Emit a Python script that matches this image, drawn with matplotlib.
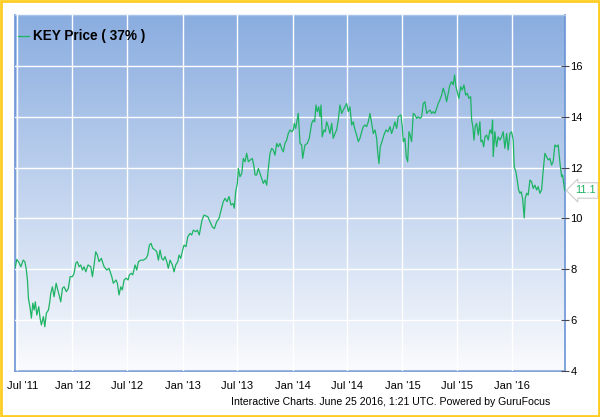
import numpy as np
import pandas as pd
import matplotlib
matplotlib.use('Agg')
import matplotlib.pyplot as plt
import matplotlib.dates as mdates
from matplotlib.patches import Rectangle
from matplotlib.transforms import ScaledTranslation

plt.rcParams['font.family'] = ['Liberation Sans', 'DejaVu Sans']

# years elapsed since 1 Jul 2011
years_since_jul11 = [
    -0.018, -0.003, 0.018, 0.034, 0.055, 0.070, 0.082, 0.094, 0.103, 0.118,
    0.130, 0.143, 0.155, 0.166, 0.179, 0.197, 0.209, 0.221, 0.239, 0.252,
    0.266, 0.285, 0.297, 0.306, 0.321, 0.336, 0.355, 0.366, 0.382, 0.397,
    0.412, 0.427, 0.448, 0.466, 0.482, 0.503, 0.518, 0.534, 0.548, 0.564,
    0.579, 0.594, 0.609, 0.625, 0.645, 0.670, 0.685, 0.700, 0.715, 0.730,
    0.745, 0.766, 0.791, 0.815, 0.836, 0.861, 0.875, 0.900, 0.912, 0.927,
    0.943, 0.957, 0.973, 0.991, 1.009, 1.021, 1.039, 1.052, 1.073, 1.088,
    1.103, 1.125, 1.148, 1.173, 1.188, 1.203, 1.218, 1.234, 1.255, 1.270,
    1.285, 1.300, 1.315, 1.330, 1.345, 1.361, 1.375, 1.391, 1.412, 1.427,
    1.443, 1.461, 1.473, 1.488, 1.506, 1.518, 1.536, 1.552, 1.573, 1.588,
    1.603, 1.625, 1.639, 1.657, 1.670, 1.682, 1.700, 1.734, 1.755, 1.775,
    1.794, 1.815, 1.836, 1.855, 1.875, 1.891, 1.909, 1.927, 1.945, 1.964,
    1.975, 1.988, 2.003, 2.012, 2.027, 2.043, 2.057, 2.073, 2.088, 2.103,
    2.121, 2.139, 2.155, 2.164, 2.179, 2.194, 2.209, 2.225, 2.239, 2.255,
    2.270, 2.285, 2.300, 2.315, 2.330, 2.345, 2.361, 2.375, 2.391, 2.406,
    2.421, 2.436, 2.452, 2.466, 2.482, 2.497, 2.512, 2.521, 2.534, 2.557,
    2.573, 2.588, 2.597, 2.618, 2.639, 2.657, 2.679, 2.694, 2.706, 2.718,
    2.730, 2.743, 2.755, 2.764, 2.775, 2.791, 2.803, 2.815, 2.830, 2.845,
    2.861, 2.875, 2.891, 2.906, 2.921, 2.936, 2.952, 2.966, 2.982, 2.997,
    3.012, 3.027, 3.043, 3.057, 3.073, 3.088, 3.103, 3.118, 3.134, 3.148,
    3.164, 3.179, 3.194, 3.209, 3.225, 3.239, 3.255, 3.270, 3.279, 3.291,
    3.303, 3.318, 3.336, 3.355, 3.373, 3.391, 3.406, 3.421, 3.436, 3.452,
    3.466, 3.491, 3.503, 3.512, 3.527, 3.539, 3.552, 3.564, 3.575, 3.588,
    3.603, 3.618, 3.634, 3.648, 3.664, 3.679, 3.694, 3.709, 3.725, 3.739,
    3.755, 3.770, 3.785, 3.800, 3.815, 3.830, 3.845, 3.861, 3.875, 3.891,
    3.906, 3.921, 3.936, 3.952, 3.966, 3.979, 3.991, 4.006, 4.018, 4.034,
    4.048, 4.064, 4.079, 4.094, 4.109, 4.125, 4.134, 4.145, 4.155, 4.166,
    4.179, 4.194, 4.209, 4.218, 4.230, 4.243, 4.255, 4.270, 4.285, 4.300,
    4.315, 4.324, 4.330, 4.345, 4.361, 4.375, 4.391, 4.406, 4.421, 4.436,
    4.452, 4.466, 4.482, 4.497, 4.512, 4.521, 4.536, 4.548, 4.561, 4.573,
    4.585, 4.597, 4.612, 4.621, 4.634, 4.648, 4.664, 4.679, 4.694, 4.709,
    4.725, 4.739, 4.755, 4.770, 4.785, 4.800, 4.815, 4.830, 4.845, 4.861,
    4.875, 4.891, 4.906, 4.921, 4.936, 4.952, 4.961, 4.980,
]

price = [
    8.05, 8.39, 8.25, 8.10, 8.36, 8.30, 8.04, 7.58, 6.86, 6.48,
    6.08, 6.67, 6.40, 6.72, 6.20, 6.53, 6.07, 5.81, 6.14, 5.74,
    6.27, 6.40, 6.72, 7.05, 7.31, 6.92, 7.45, 7.25, 6.99, 6.72,
    7.25, 7.31, 7.12, 7.25, 7.71, 7.71, 7.84, 8.24, 8.30, 8.10,
    8.17, 7.97, 8.10, 7.90, 8.17, 8.10, 7.71, 8.17, 8.69, 8.56,
    8.30, 8.43, 8.10, 7.97, 8.04, 7.71, 7.45, 7.58, 7.45, 6.99,
    7.31, 7.19, 7.58, 7.65, 7.58, 7.78, 7.84, 7.78, 8.17, 7.97,
    8.30, 8.36, 8.36, 8.43, 8.56, 8.95, 9.02, 8.82, 8.76, 8.69,
    8.36, 8.76, 8.43, 8.36, 8.50, 8.30, 8.04, 8.36, 8.17, 7.90,
    8.17, 8.30, 8.56, 8.43, 8.76, 8.95, 8.89, 9.28, 9.41, 9.35,
    9.54, 9.48, 9.54, 9.35, 9.67, 9.94, 10.13, 10.07, 9.87, 9.67,
    9.60, 9.87, 10.00, 10.33, 10.66, 10.79, 10.66, 10.86, 10.53, 10.59,
    10.40, 11.05, 11.38, 11.97, 11.64, 11.77, 12.36, 12.23, 12.56, 12.23,
    12.30, 12.36, 12.03, 11.71, 11.71, 11.97, 11.77, 11.57, 11.38, 11.51,
    11.31, 11.97, 12.56, 12.75, 12.69, 12.49, 12.95, 12.82, 12.95, 12.75,
    12.62, 12.95, 13.08, 13.34, 13.48, 13.41, 13.48, 13.74, 13.54, 14.13,
    12.95, 12.89, 12.36, 12.89, 12.95, 13.15, 13.74, 13.87, 13.80, 14.46,
    14.20, 14.39, 14.00, 14.46, 13.21, 13.48, 13.41, 13.80, 13.61, 13.34,
    13.74, 13.15, 13.34, 13.48, 13.87, 14.46, 14.13, 14.26, 14.39, 14.52,
    14.20, 14.39, 13.67, 13.80, 13.48, 13.28, 13.02, 13.15, 13.41, 13.61,
    13.67, 13.61, 13.80, 14.13, 13.74, 13.34, 13.48, 13.15, 12.62, 12.16,
    12.82, 13.02, 13.28, 13.48, 13.41, 13.61, 13.34, 13.54, 13.80, 13.54,
    14.00, 14.07, 13.61, 13.02, 13.15, 12.43, 12.23, 13.41, 13.28, 13.02,
    14.13, 14.07, 13.93, 14.00, 13.93, 14.00, 14.52, 14.59, 14.13, 14.20,
    14.26, 14.13, 14.20, 14.13, 14.33, 14.52, 14.66, 14.85, 15.12, 14.92,
    14.59, 14.92, 15.25, 15.38, 15.25, 15.64, 15.18, 14.92, 14.72, 15.18,
    15.05, 15.25, 14.85, 14.92, 14.72, 14.79, 13.87, 13.61, 13.08, 13.61,
    13.74, 13.28, 13.80, 13.02, 13.08, 12.82, 13.21, 13.28, 13.08, 13.48,
    13.34, 13.87, 12.43, 13.41, 12.82, 13.21, 13.08, 13.21, 13.41, 12.76,
    13.34, 12.69, 13.34, 13.41, 13.08, 12.03, 11.84, 11.51, 11.12, 10.99,
    11.05, 10.79, 10.02, 10.79, 10.99, 10.92, 11.51, 11.44, 11.18, 11.31,
    11.12, 11.25, 10.99, 11.12, 11.90, 12.56, 12.43, 12.30, 12.36, 12.10,
    12.23, 12.89, 12.82, 12.89, 12.23, 11.64, 11.71, 11.10,
]

x_tick_labels = ["Jul '11", "Jan '12", "Jul '12", "Jan '13", "Jul '13",
                 "Jan '14", "Jul '14", "Jan '15", "Jul '15", "Jan '16"]
y_ticks = [4, 6, 8, 10, 12, 14, 16]
last_label = '11.1'
legend_label = 'KEY Price ( 37% )'
footer = 'Interactive Charts. June 25 2016, 1:21 UTC. Powered by GuruFocus'

LINE_GREEN = '#1DB463'
AXIS_BLUE = '#6A93D4'

start = pd.Timestamp('2011-07-01')
dates = start + pd.to_timedelta(np.array(years_since_jul11) * 365.25, unit='D')
tick_dates = pd.date_range('2011-07-01', periods=len(x_tick_labels), freq='6MS')

fig = plt.figure(figsize=(6, 4.17), dpi=100)
ax = fig.add_axes([15 / 600, 1 - 371 / 417, 550 / 600, 356 / 417])

x0, x1 = pd.Timestamp('2011-06-24'), pd.Timestamp('2016-06-24')
ax.set_xlim(x0, x1)
ax.set_ylim(4, 18)

# vertical gradient background
grad = np.linspace(0, 1, 256).reshape(-1, 1)
top_c = np.array([0x8A, 0xAD, 0xE0]) / 255
bot_c = np.array([0xFA, 0xFB, 0xFD]) / 255
img = top_c + (bot_c - top_c) * grad
ax.imshow(img[:, None, :].repeat(2, axis=1), aspect='auto',
          extent=[mdates.date2num(x0), mdates.date2num(x1), 4, 18],
          origin='upper', zorder=0)

ax.set_xticks(tick_dates)
ax.set_xticklabels(x_tick_labels, fontsize=8)
ax.set_yticks(y_ticks)
ax.set_yticklabels([str(v) for v in y_ticks], fontsize=8)
ax.yaxis.tick_right()
ax.tick_params(axis='x', length=0, pad=7)
ax.tick_params(axis='y', direction='inout', length=6, width=0.8,
               color='#445', pad=1)
ax.grid(True, color='white', lw=1, zorder=1)
ax.set_axisbelow(False)

# first label is nudged right so it stays inside the frame
first = ax.get_xticklabels()[0]
first.set_transform(first.get_transform() + ScaledTranslation(0.055, 0, fig.dpi_scale_trans))

ax.plot(dates, price, color=LINE_GREEN, lw=0.9, zorder=3, label=legend_label)

for side in ['left', 'bottom', 'right']:
    ax.spines[side].set_color(AXIS_BLUE)
    ax.spines[side].set_linewidth(1.2)
ax.spines['top'].set_color('#A7C3EA')
ax.spines['top'].set_linewidth(1)

leg = ax.legend(loc='upper left', bbox_to_anchor=(-0.016, 0.994), frameon=False,
                handlelength=0.75, handletextpad=0.35,
                prop=dict(size=9.8, weight='bold'))

# last value marker on the right axis
ax.annotate(last_label, xy=(1.0, price[-1]), xycoords=('axes fraction', 'data'),
            xytext=(7, 0), textcoords='offset points', va='center', ha='left',
            fontsize=7.8, color=LINE_GREEN, annotation_clip=False,
            bbox=dict(boxstyle='larrow,pad=0.25', fc='white', ec='#cccccc', lw=0.8))

fig.text(550 / 600, 1 - 402 / 417, footer, ha='right', va='center', fontsize=7.6)

fig.patches.append(Rectangle((0.002, 0.003), 0.996, 0.994, transform=fig.transFigure,
                             fill=False, ec='#FFCC22', lw=2))

fig.savefig('out.png', dpi=100)
